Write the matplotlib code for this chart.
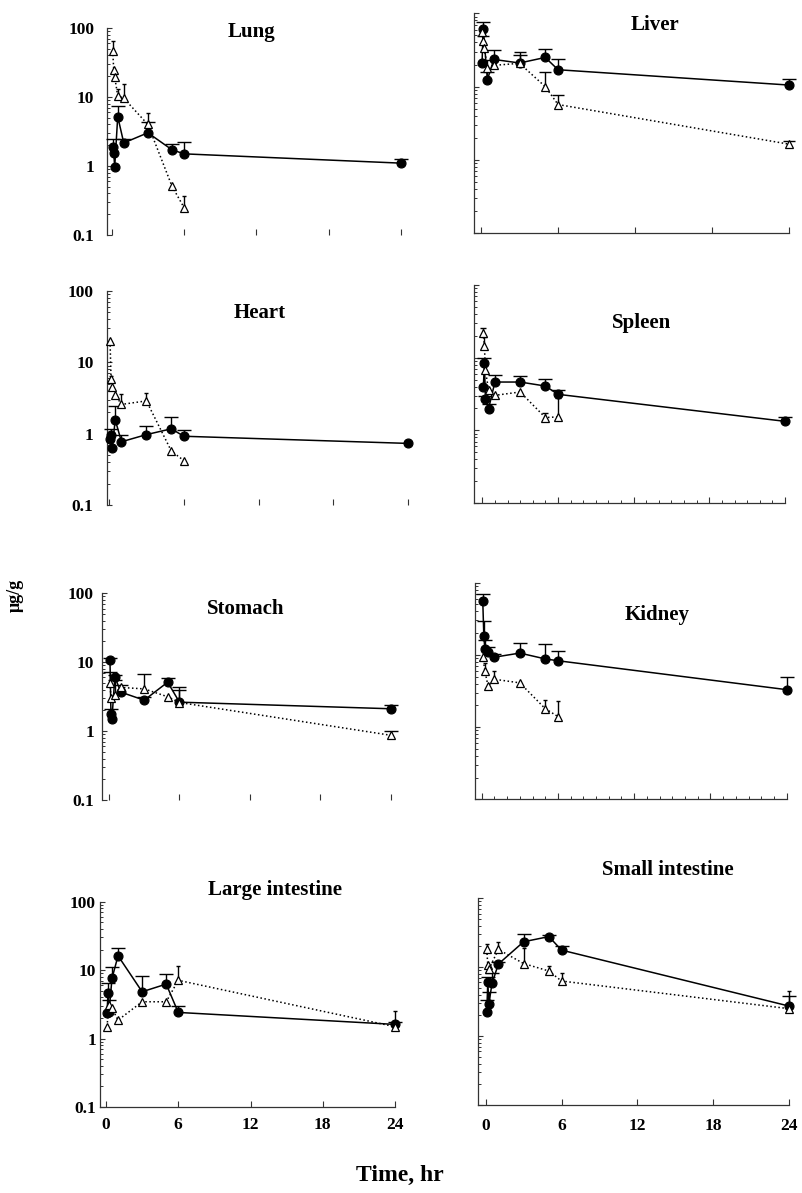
import numpy as np
import matplotlib.pyplot as plt
from matplotlib.ticker import FixedLocator, LogLocator, MultipleLocator, NullLocator

plt.rcParams['font.family'] = ['Liberation Serif', 'DejaVu Serif']
plt.rcParams['font.weight'] = 'bold'

W, H = 802, 1193
nan = np.nan

# ---- data: filled circles (solid) and open triangles (dotted), upper error ends ----
T9 = [0.083, 0.167, 0.25, 0.5, 1, 3, 5, 6, 24]
T8 = [0.083, 0.167, 0.25, 0.5, 1, 3, 5, 6]

lung_t_a = T9
lung_a = [1.9, 1.54, 0.98, 5.2, 2.16, 3.03, 1.72, 1.5, 1.1]
lung_a_up = [2.5, nan, nan, 7.4, 2.5, 4.3, 2.1, 2.2, 1.25]
lung_t_b = T8
lung_b = [47, 25, 19.5, 10.4, 9.6, 4.0, 0.51, 0.25]
lung_b_up = [65, nan, nan, 13, 15.5, 5.8, nan, 0.37]

liver_t_a = [0.083, 0.167, 0.5, 1, 3, 5, 6, 24]
liver_a = [21, 62, 12.5, 23.5, 21, 25, 17, 10.5]
liver_a_up = [nan, 76, 16, 31.8, 27, 32.3, 23.8, 12.8]
liver_t_b = T9
liver_b = [55, 42, 34, 18, 19.5, 20.8, 10, 5.7, 1.64]
liver_b_up = [nan, 49, nan, 23, nan, 30, 15.6, 7.6, 1.8]

heart_t_a = T9
heart_a = [0.85, 0.95, 0.62, 1.56, 0.77, 0.97, 1.17, 0.92, 0.73]
heart_a_up = [nan, 1.17, nan, 2.45, 0.95, 1.3, 1.7, 1.11, nan]
heart_t_b = T8
heart_b = [19.8, 5.87, 4.5, 3.5, 2.57, 2.88, 0.57, 0.42]
heart_b_up = [nan, 6.5, nan, nan, 3.6, 3.7, nan, nan]

spleen_t_a = T9
spleen_a = [3.94, 8.4, 2.72, 1.99, 4.62, 4.62, 4.07, 3.13, 1.33]
spleen_a_up = [nan, 10, 3.0, 2.3, 5.85, 5.6, 5.1, 3.6, 1.53]
spleen_t_b = T8
spleen_b = [21.8, 14.3, 6.7, 3.55, 3.03, 3.37, 1.5, 1.53]
spleen_b_up = [26, 19, nan, nan, nan, nan, 1.75, 2.8]

stomach_t_a = T9
stomach_a = [10.9, 1.75, 1.51, 6.13, 3.68, 2.81, 5.13, 2.63, 2.11]
stomach_a_up = [11.5, 2.1, nan, 6.5, 4.7, 3.1, 5.8, 4.4, 2.4]
stomach_t_b = [0.083, 0.167, 0.5, 1, 3, 5, 6, 24]
stomach_b = [5.0, 3.05, 3.3, 4.3, 4.1, 3.15, 2.6, 0.87]
stomach_b_up = [7.3, nan, 5.5, nan, 6.8, nan, 3.9, 0.99]

kidney_t_a = T9
kidney_a = [56.6, 18.4, 11.9, 10.8, 9.3, 10.6, 8.8, 8.3, 3.3]
kidney_a_up = [69, 29.6, 16, 12.8, 10.3, 14.5, 14.3, 11.5, 4.9]
kidney_t_b = [0.083, 0.25, 0.5, 1, 3, 5, 6]
kidney_b = [9.5, 6.0, 3.7, 4.6, 4.1, 1.8, 1.4]
kidney_b_up = [nan, 7.8, nan, 5.9, nan, 2.4, 2.3]

large_t_a = T9
large_a = [2.33, 4.58, 2.46, 7.6, 16.2, 4.83, 6.25, 2.41, 1.61]
large_a_up = [nan, 6.4, 3.65, 11, 20.8, 8.2, 8.8, 3.0, 1.75]
large_t_b = [0.083, 0.25, 0.5, 1, 3, 5, 6, 24]
large_b = [1.5, 3.1, 2.76, 1.86, 3.45, 3.45, 7.1, 1.49]
large_b_up = [nan, nan, nan, nan, nan, nan, 11.5, 2.5]

small_t_a = T9
small_a = [2.23, 6.08, 2.95, 5.8, 11.1, 23.4, 27.8, 17.7, 2.73]
small_a_up = [3.3, 7.3, 4.3, 8.3, 11.9, 30, 29.5, 20, 3.8]
small_t_b = [0.083, 0.167, 0.25, 1, 3, 5, 6, 24]
small_b = [18.1, 10.6, 9.3, 18.1, 11.3, 8.8, 6.3, 2.5]
small_b_up = [21.5, nan, nan, 23, 19.2, 10.5, 8.2, 4.5]

x_ticks = [0, 6, 12, 18, 24]
y_ticks = [0.1, 1, 10, 100]
y_labels = ['0.1', '1', '10', '100']

# ---- layout (pixels): spine x, x of t=0, x of t=24, y of 100, y of 0.1 ----
panels = [
    dict(name='Lung', data=(lung_t_a, lung_a, lung_a_up, lung_t_b, lung_b, lung_b_up),
         L=106.7, x0=111.7, x24=401, T=28, B=235, title=(251.7, 31.7),
         left=True, bottom=False, spine=False, cap_b=3, ypad=9),
    dict(name='Liver', data=(liver_t_a, liver_a, liver_a_up, liver_t_b, liver_b, liver_b_up),
         L=474.3, x0=481, x24=789.3, T=13.3, B=233.3, title=(655, 25),
         left=False, bottom=False, spine=True, cap_b=9, ypad=9),
    dict(name='Heart', data=(heart_t_a, heart_a, heart_a_up, heart_t_b, heart_b, heart_b_up),
         L=106.7, x0=109, x24=408.3, T=291, B=505, title=(260, 313.3),
         left=True, bottom=False, spine=False, cap_b=3, ypad=9.5),
    dict(name='Spleen', data=(spleen_t_a, spleen_a, spleen_a_up, spleen_t_b, spleen_b, spleen_b_up),
         L=474.3, x0=482.3, x24=785, T=285, B=503, title=(641.7, 323.3),
         left=False, bottom=False, spine=True, cap_b=4, ypad=9, minor_x=True),
    dict(name='Stomach', data=(stomach_t_a, stomach_a, stomach_a_up, stomach_t_b, stomach_b, stomach_b_up),
         L=101.7, x0=109, x24=390.7, T=593.3, B=800, title=(246, 609.3),
         left=True, bottom=False, spine=False, cap_b=10, ypad=5.5),
    dict(name='Kidney', data=(kidney_t_a, kidney_a, kidney_a_up, kidney_t_b, kidney_b, kidney_b_up),
         L=475, x0=481.7, x24=786.7, T=582.7, B=799.3, title=(656.7, 615),
         left=False, bottom=False, spine=True, cap_b=3, ypad=9, minor_x=True),
    dict(name='Large intestine', data=(large_t_a, large_a, large_a_up, large_t_b, large_b, large_b_up),
         L=100, x0=106, x24=395, T=901.7, B=1107, title=(275, 890),
         left=True, bottom=True, spine=True, cap_b=3, ypad=3, xpad=7.5),
    dict(name='Small intestine', data=(small_t_a, small_a, small_a_up, small_t_b, small_b, small_b_up),
         L=478.3, x0=485.7, x24=789, T=898.3, B=1105, title=(668.3, 870),
         left=False, bottom=True, spine=True, cap_b=3, ypad=9, xpad=9.5),
]

fig = plt.figure(figsize=(W / 100, H / 100), dpi=100)


def series(ax, t, v, up, marker, ls, capsize, mfc, z):
    t = np.asarray(t, float)
    v = np.asarray(v, float)
    up = np.asarray(up, float)
    ok = ~np.isnan(up)
    ax.vlines(t[ok], v[ok], up[ok], color='black', lw=1.0, zorder=z, clip_on=False)
    ax.plot(t[ok], up[ok], ls='none', marker='_', ms=capsize, mew=1.0,
            color='black', zorder=z, clip_on=False)
    ax.plot(t, v, ls=ls, color='black', lw=1.1, marker=marker, ms=6.4 if marker == 'o' else 6.2,
            mfc=mfc, mec='black', mew=0.9, zorder=z + 1, clip_on=False)


for p in panels:
    k = (p['x24'] - p['x0']) / 24.0
    rect = [p['L'] / W, 1 - p['B'] / H, (p['x24'] - p['L']) / W, (p['B'] - p['T']) / H]
    ax = fig.add_axes(rect)
    ax.set_yscale('log')
    ax.set_ylim(0.1, 100)
    ax.set_xlim((p['L'] - p['x0']) / k, 24)
    ax.patch.set_alpha(0)

    ta, a, a_up, tb, b, b_up = p['data']
    series(ax, ta, a, a_up, 'o', '-', 10, 'black', 3)
    series(ax, tb, b, b_up, '^', ':', p['cap_b'], 'white', 5)

    for s in ['top', 'right']:
        ax.spines[s].set_visible(False)
    ax.spines['bottom'].set_visible(p['spine'])
    for s in ['left', 'bottom']:
        ax.spines[s].set_linewidth(0.9)
        ax.spines[s].set_color('#333333')

    ax.yaxis.set_major_locator(FixedLocator(y_ticks))
    ax.yaxis.set_minor_locator(LogLocator(base=10, subs=np.arange(2, 10)))
    ax.set_xticks(x_ticks)
    if p.get('minor_x'):
        ax.xaxis.set_minor_locator(MultipleLocator(1))
    else:
        ax.xaxis.set_minor_locator(NullLocator())

    ax.tick_params(axis='y', which='major', direction='in', length=3.5, width=0.8,
                   labelsize=12.5, pad=p['ypad'], color='#333333')
    ax.tick_params(axis='y', which='minor', direction='in', length=2, width=0.7, color='#333333')
    ax.tick_params(axis='x', which='major', direction='in', length=4.5, width=0.8,
                   labelsize=12.5, pad=p.get('xpad', 7), color='#333333')
    ax.tick_params(axis='x', which='minor', direction='in', length=2.5, width=0.7, color='#333333')

    if p['left']:
        ax.set_yticklabels(y_labels, fontweight='bold')
    else:
        ax.set_yticklabels([])
    if p['bottom']:
        ax.set_xticklabels([str(x) for x in x_ticks], fontweight='bold')
    else:
        ax.set_xticklabels([])

    tx, ty = p['title']
    fig.text(tx / W, 1 - ty / H, p['name'], ha='center', va='center',
             fontsize=15, fontweight='bold')

fig.text(15 / W, 1 - 595 / H, 'μg/g', rotation=90, ha='center', va='center',
         fontsize=13, fontweight='bold')
fig.text(400 / W, 1 - 1175 / H, 'Time, hr', ha='center', va='center',
         fontsize=17, fontweight='bold')

fig.savefig('out.png', dpi=100)
